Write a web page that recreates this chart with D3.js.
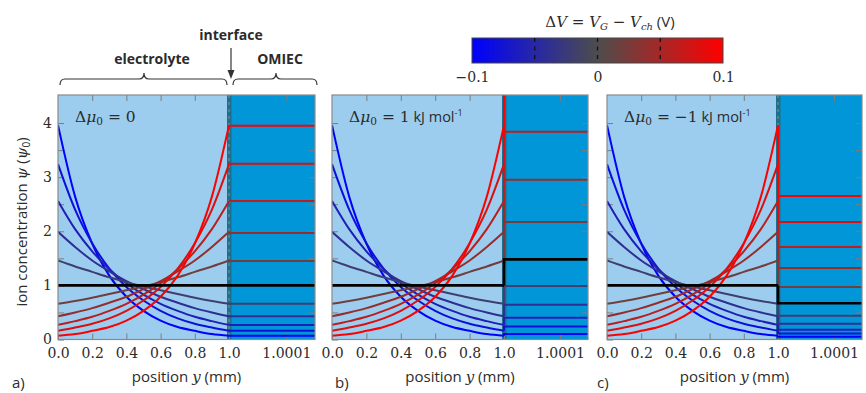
<!DOCTYPE html>
<html>
<head>
<meta charset="utf-8">
<script src="https://cdn.jsdelivr.net/npm/d3@7"></script>
<style>
  body { margin: 0; background: #fff; }
  svg { display: block; }
  .tick text { font-family: "DejaVu Serif", serif; font-size: 14px; fill: #2b2b2b; }
  .tick line { stroke: #7d7d7d; }
  .sans { font-family: "Open Sans", sans-serif; fill: #2b2b2b; }
  .serif { font-family: "DejaVu Serif", serif; fill: #2b2b2b; }
</style>
</head>
<body>
<svg id="chart" width="866" height="393"></svg>
<script>
// positions along the electrolyte (mm)
const positions = [0, 0.1, 0.2, 0.3, 0.4, 0.5, 0.6, 0.7, 0.8, 0.9, 1.0];
// gate voltage offsets, one curve each
const deltaV = [-0.1, -0.08, -0.06, -0.04, -0.02, 0, 0.02, 0.04, 0.06, 0.08, 0.1];

// ion concentration in the electrolyte, same in all three panels
const psiElectrolyte = [
  [3.96, 2.64, 1.77, 1.18, 0.79, 0.53, 0.35, 0.23, 0.16, 0.10, 0.07],
  [3.24, 2.40, 1.78, 1.31, 0.97, 0.72, 0.53, 0.39, 0.29, 0.22, 0.16],
  [2.56, 2.04, 1.63, 1.30, 1.04, 0.83, 0.66, 0.53, 0.42, 0.34, 0.27],
  [1.99, 1.71, 1.46, 1.26, 1.08, 0.93, 0.79, 0.68, 0.58, 0.50, 0.43],
  [1.46, 1.35, 1.25, 1.15, 1.06, 0.98, 0.91, 0.84, 0.77, 0.71, 0.66],
  [1, 1, 1, 1, 1, 1, 1, 1, 1, 1, 1],
  [0.66, 0.71, 0.77, 0.84, 0.91, 0.98, 1.06, 1.15, 1.25, 1.35, 1.46],
  [0.43, 0.50, 0.58, 0.68, 0.79, 0.93, 1.08, 1.26, 1.46, 1.71, 1.99],
  [0.27, 0.34, 0.42, 0.53, 0.66, 0.83, 1.04, 1.30, 1.63, 2.04, 2.56],
  [0.16, 0.22, 0.29, 0.39, 0.53, 0.72, 0.97, 1.31, 1.78, 2.40, 3.24],
  [0.07, 0.10, 0.16, 0.23, 0.35, 0.53, 0.79, 1.18, 1.77, 2.64, 3.96]
];

// concentration inside the OMIEC for each panel
const omiecA = [0.07, 0.16, 0.27, 0.43, 0.66, 1, 1.45, 1.97, 2.56, 3.25, 3.95];
const omiecB = [0.10, 0.24, 0.40, 0.64, 0.99, 1.48, 2.17, 2.95, 3.84, 4.85, 5.93];
const omiecC = [0.05, 0.11, 0.18, 0.29, 0.44, 0.67, 0.97, 1.32, 1.71, 2.17, 2.65];

const electrolyteTicks = [0, 0.2, 0.4, 0.6, 0.8, 1.0];
const omiecTicks = [1.0001];
const yTicks = [0, 0.5, 1, 1.5, 2, 2.5, 3, 3.5, 4];
const panelTags = ['a)', 'b)', 'c)'];
const muValues = ['0', '1', '\u22121'];
const colorbarTicks = [-0.1, 0, 0.1];

const svg = d3.select('#chart');
const plotTop = 95, plotBottom = 339.5;

const yScale = d3.scaleLinear().domain([0, 4.5]).range([plotBottom, 96]);
const color = d3.scaleLinear().domain([-0.1, 0, 0.1]).range(['#0000ff', '#4d4d4d', '#ff0000']);

const panels = [
  { left: 58, inter: 229, right: 315, omiec: omiecA, tagX: 12 },
  { left: 332, inter: 504, right: 588, omiec: omiecB, tagX: 335 },
  { left: 607, inter: 778, right: 862, omiec: omiecC, tagX: 597 }
];

panels.forEach((p, k) => {
  const xE = d3.scaleLinear().domain([0, 1]).range([p.left, p.inter]);
  const xO = d3.scaleLinear().domain([1, 1.00015]).range([p.inter, p.right]);
  const g = svg.append('g');

  g.append('clipPath').attr('id', 'clip' + k)
    .append('rect')
    .attr('x', p.left).attr('y', plotTop)
    .attr('width', p.right - p.left).attr('height', plotBottom - plotTop);

  // regions
  g.append('rect').attr('x', p.left).attr('y', plotTop)
    .attr('width', p.inter - p.left).attr('height', plotBottom - plotTop)
    .attr('fill', '#9ccdee');
  g.append('rect').attr('x', p.inter).attr('y', plotTop)
    .attr('width', p.right - p.inter).attr('height', plotBottom - plotTop)
    .attr('fill', '#0096d7');
  g.append('rect').attr('x', p.inter - 2).attr('y', plotTop)
    .attr('width', 4.5).attr('height', plotBottom - plotTop)
    .attr('fill', '#1f6e8c');
  g.append('line')
    .attr('x1', p.inter).attr('x2', p.inter)
    .attr('y1', plotTop).attr('y2', plotBottom)
    .attr('stroke', '#6f8f9c').attr('stroke-width', 1.2)
    .attr('stroke-dasharray', '3,4');

  // axes (inward ticks)
  const xAxisE = d3.axisBottom(xE).tickValues(electrolyteTicks)
    .tickSizeInner(-6).tickSizeOuter(0).tickPadding(9).tickFormat(d3.format('.1f'));
  const xAxisO = d3.axisBottom(xO).tickValues(omiecTicks)
    .tickSizeInner(-6).tickSizeOuter(0).tickPadding(9).tickFormat(d3.format('.4f'));
  g.append('g').attr('transform', `translate(0,${plotBottom})`).call(xAxisE);
  g.append('g').attr('transform', `translate(0,${plotBottom})`).call(xAxisO);
  g.append('g').attr('transform', `translate(0,${plotTop})`)
    .call(d3.axisTop(xE).tickValues([0.2, 0.4, 0.6, 0.8]).tickSizeInner(-6).tickSizeOuter(0).tickFormat(''));
  g.append('g').attr('transform', `translate(0,${plotTop})`)
    .call(d3.axisTop(xO).tickValues(omiecTicks).tickSizeInner(-6).tickSizeOuter(0).tickFormat(''));
  g.append('g').attr('transform', `translate(${p.left},0)`)
    .call(d3.axisLeft(yScale).tickValues(yTicks).tickSizeInner(-6).tickSizeOuter(0).tickPadding(6)
      .tickFormat(d => (k === 0 && Number.isInteger(d)) ? d : ''));
  g.append('g').attr('transform', `translate(${p.right},0)`)
    .call(d3.axisRight(yScale).tickValues(yTicks.filter(d => d > 0)).tickSizeInner(-6).tickSizeOuter(0).tickFormat(''));
  g.selectAll('.domain').remove();

  // curves
  const lineE = d3.line()
    .x((d, j) => xE(positions[j]))
    .y(d => yScale(d))
    .curve(d3.curveMonotoneX);
  const lineO = d3.line().x(d => xO(d[0])).y(d => yScale(d[1]));
  const curves = g.append('g').attr('clip-path', `url(#clip${k})`);
  const order = deltaV.map((d, i) => i).filter(i => deltaV[i] !== 0).concat([deltaV.indexOf(0)]);
  order.forEach(i => {
    const dv = deltaV[i];
    const stroke = dv === 0 ? '#000' : color(dv);
    const w = dv === 0 ? 2.6 : 2;
    const vals = psiElectrolyte[i];
    curves.append('path').attr('d', lineE(vals))
      .attr('fill', 'none').attr('stroke', stroke).attr('stroke-width', w);
    curves.append('path')
      .attr('d', lineO([[1, vals[vals.length - 1]], [1, p.omiec[i]], [1.00015, p.omiec[i]]]))
      .attr('fill', 'none').attr('stroke', stroke).attr('stroke-width', w);
  });

  // frame
  g.append('rect').attr('x', p.left).attr('y', plotTop)
    .attr('width', p.right - p.left).attr('height', plotBottom - plotTop)
    .attr('fill', 'none').attr('stroke', '#8a8a8a').attr('stroke-width', 1.2);

  // in-panel label
  const mu = g.append('text').attr('class', 'serif')
    .attr('x', p.left + 17).attr('y', 122).attr('font-size', 15.5);
  mu.append('tspan').text('\u0394');
  mu.append('tspan').attr('font-style', 'italic').text('\u03bc');
  mu.append('tspan').attr('font-size', 10.5).attr('dy', 3).text('0');
  mu.append('tspan').attr('dy', -3).text(' = ' + muValues[k]);
  if (k > 0) {
    mu.append('tspan').attr('font-family', '"Open Sans", sans-serif').attr('font-size', 14.5).text(' kJ mol');
    mu.append('tspan').attr('font-family', '"Open Sans", sans-serif').attr('font-size', 9).attr('dy', -6).text('-1');
  }

  // x title
  const xt = svg.append('text').attr('class', 'sans')
    .attr('x', (p.left + p.right) / 2).attr('y', 382)
    .attr('text-anchor', 'middle').attr('font-size', 15);
  xt.append('tspan').text('position ');
  xt.append('tspan').attr('font-family', '"DejaVu Serif", serif').attr('font-style', 'italic').text('y');
  xt.append('tspan').text(' (mm)');

  svg.append('text').attr('class', 'sans')
    .attr('x', p.tagX).attr('y', 388)
    .attr('font-size', 15).text(panelTags[k]);
});

// y title
const yt = svg.append('text').attr('class', 'sans')
  .attr('transform', 'translate(27,222) rotate(-90)')
  .attr('text-anchor', 'middle').attr('font-size', 15);
yt.append('tspan').text('ion concentration ');
yt.append('tspan').attr('font-family', '"DejaVu Serif", serif').attr('font-style', 'italic').text('\u03c8');
yt.append('tspan').text(' (');
yt.append('tspan').attr('font-family', '"DejaVu Serif", serif').attr('font-style', 'italic').text('\u03c8');
yt.append('tspan').attr('font-size', 10).attr('dy', 3).text('0');
yt.append('tspan').attr('dy', -3).text(')');

// header annotations
function brace(x1, x2, xm) {
  const y = 79;
  return `M${x1},85 Q${x1},${y} ${x1 + 5},${y} L${xm - 5},${y} Q${xm},${y} ${xm},${y - 6}` +
    ` Q${xm},${y} ${xm + 5},${y} L${x2 - 5},${y} Q${x2},${y} ${x2},85`;
}
svg.append('path').attr('d', brace(60, 227, 144))
  .attr('fill', 'none').attr('stroke', '#333').attr('stroke-width', 1.2);
svg.append('path').attr('d', brace(233, 317, 276))
  .attr('fill', 'none').attr('stroke', '#333').attr('stroke-width', 1.2);
svg.append('text').attr('class', 'sans').attr('x', 152).attr('y', 64)
  .attr('text-anchor', 'middle').attr('font-weight', 700).attr('font-size', 14).text('electrolyte');
svg.append('text').attr('class', 'sans').attr('x', 280).attr('y', 64)
  .attr('text-anchor', 'middle').attr('font-weight', 700).attr('font-size', 14).text('OMIEC');
svg.append('text').attr('class', 'sans').attr('x', 231).attr('y', 40)
  .attr('text-anchor', 'middle').attr('font-weight', 700).attr('font-size', 14).text('interface');
svg.append('line').attr('x1', 231).attr('x2', 231).attr('y1', 48).attr('y2', 72)
  .attr('stroke', '#333').attr('stroke-width', 1.2);
svg.append('path').attr('d', 'M227.5,70 L231,79 L234.5,70 Z').attr('fill', '#333');

// colorbar
const cb = d3.scaleLinear().domain([-0.1, 0.1]).range([472, 723]);
const defs = svg.append('defs');
const grad = defs.append('linearGradient').attr('id', 'cbgrad');
[-0.1, -0.05, 0, 0.05, 0.1].forEach(v => {
  grad.append('stop').attr('offset', ((v + 0.1) / 0.2 * 100) + '%').attr('stop-color', color(v));
});
svg.append('rect').attr('x', cb(-0.1)).attr('y', 38)
  .attr('width', cb(0.1) - cb(-0.1)).attr('height', 25)
  .attr('fill', 'url(#cbgrad)').attr('stroke', '#444').attr('stroke-width', 1);
[-0.05, 0, 0.05].forEach(v => {
  svg.append('line').attr('x1', cb(v)).attr('x2', cb(v)).attr('y1', 38).attr('y2', 63)
    .attr('stroke', '#111').attr('stroke-width', 1.3).attr('stroke-dasharray', '4,4.5');
});
svg.append('g').attr('transform', 'translate(0,63)')
  .call(d3.axisBottom(cb).tickValues(colorbarTicks).tickSize(0).tickPadding(9)
    .tickFormat(d => d === 0 ? '0' : d3.format('.1f')(d).replace('-', '\u2212')))
  .call(s => s.select('.domain').remove())
  .selectAll('text').attr('font-size', 15);

const ct = svg.append('text').attr('class', 'serif')
  .attr('x', 610).attr('y', 27).attr('text-anchor', 'middle').attr('font-size', 15);
ct.append('tspan').text('\u0394');
ct.append('tspan').attr('font-style', 'italic').text('V');
ct.append('tspan').text(' = ');
ct.append('tspan').attr('font-style', 'italic').text('V');
ct.append('tspan').attr('font-style', 'italic').attr('font-size', 10).attr('dy', 3).text('G');
ct.append('tspan').attr('dy', -3).text(' \u2212 ');
ct.append('tspan').attr('font-style', 'italic').text('V');
ct.append('tspan').attr('font-style', 'italic').attr('font-size', 10).attr('dy', 3).text('ch');
ct.append('tspan').attr('dy', -3).attr('font-family', '"Open Sans", sans-serif').text(' (V)');
</script>
</body>
</html>
